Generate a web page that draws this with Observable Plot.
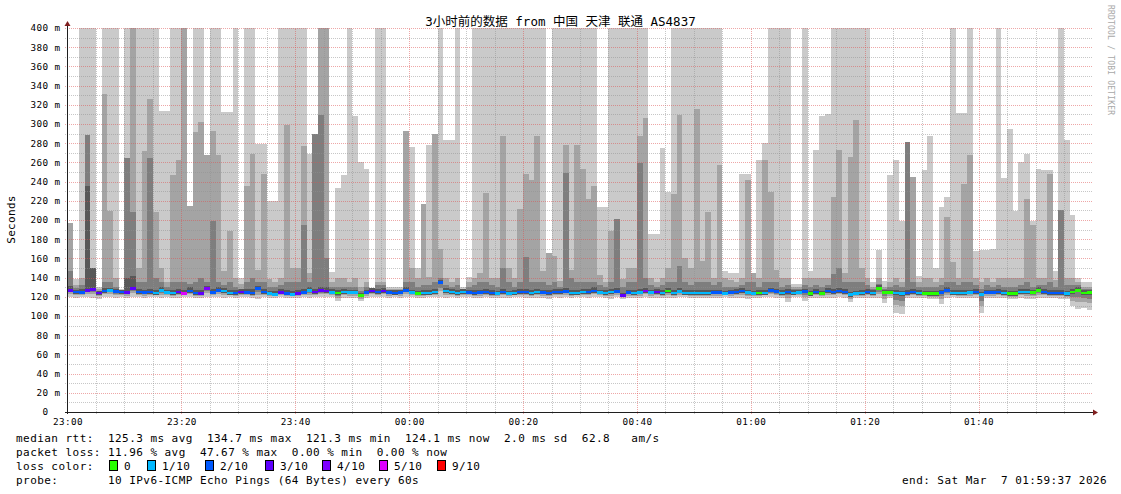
<!DOCTYPE html>
<html><head><meta charset="utf-8">
<script src="https://cdn.jsdelivr.net/npm/d3@7"></script>
<script src="https://cdn.jsdelivr.net/npm/@observablehq/plot@0.6"></script>
<style>
body{margin:0;background:#fff;}
#chart svg{display:block;}
#chart text{white-space:pre;}
</style></head><body><div id="chart"></div>
<script>
// ---------- data ----------
const chartTitle = "3小时前的数据 from 中国 天津 联通 AS4837";
const yTicks = [0,20,40,60,80,100,120,140,160,180,200,220,240,260,280,300,320,340,360,380,400];
const xTickLabels = ["23:00","23:20","23:40","00:00","00:20","00:40","01:00","01:20","01:40"];
const lossLegendLabels = ["0","1/10","2/10","3/10","4/10","5/10","9/10"];
const lossLegendColors = ["#26ff00","#00b8ff","#0059ff","#5e00ff","#7e00ff","#dd00ff","#ff0000"];
const lossLegendLevels = [0,1,2,3,4,5,9];
const medianRttStats = ["125.3","134.7","121.3","124.1","2.0","62.8"];
const packetLossStats = ["11.96","47.67","0.00","0.00"];
const probeText = "10 IPv6-ICMP Echo Pings (64 Bytes) every 60s";
const endText = "end: Sat Mar  7 01:59:37 2026";

// one column per minute from 23:00 (ms)
const lightTop = [197,139,400,400,400,130,400,400,400,128,400,400,400,400,400,400,314,314,400,400,
400,215,400,400,268,400,400,313,313,400,140,400,400,279,279,220,220,400,400,400,
400,400,269,290,400,400,146,233,247,400,308,260,253,128,400,400,130,130,130,293,
276,150,217,278,290,400,283,283,400,130,141,400,400,400,400,400,400,400,400,400,
400,400,400,400,166,400,400,400,400,400,400,400,400,214,214,400,400,400,400,400,
400,400,185,185,275,229,400,400,400,400,400,400,400,400,400,147,145,145,248,248,
145,262,280,400,400,400,400,133,133,400,147,273,308,310,400,400,400,400,400,400,
400,135,169,136,247,262,199,281,245,142,252,288,150,214,224,400,311,311,400,168,
169,169,170,400,244,295,209,260,269,199,253,252,252,147,400,283,205,140,135,135];
const midTop = [197,132,140,289,150,128,331,209,140,127,265,400,150,272,326,208,150,135,247,263,
400,215,292,302,268,293,268,147,189,140,133,235,269,148,248,139,135,140,299,150,
150,277,145,290,400,400,135,140,140,135,140,130,135,127,135,135,128,128,128,293,
150,140,217,141,290,170,140,135,140,128,135,140,145,228,140,140,288,150,140,211,
248,242,287,147,166,163,136,278,148,278,253,222,235,143,135,189,201,139,150,150,
287,306,140,135,140,150,227,309,160,150,316,157,208,140,257,140,137,135,140,242,
145,140,262,229,148,140,140,130,130,140,140,140,140,140,224,273,145,266,304,150,
140,130,140,130,135,140,135,281,245,135,140,140,135,140,203,156,140,237,268,140,
135,140,135,140,140,140,140,140,222,195,140,140,248,138,210,140,140,135,130,130];
const darkTop = [147,129,132,289,150,126,135,135,130,126,265,208,135,135,265,140,135,130,135,135,
135,133,135,140,135,199,135,132,135,130,128,135,140,135,135,130,130,132,135,135,
135,195,135,290,309,160,130,130,130,130,130,126,130,128,132,132,127,127,127,135,
135,130,132,132,135,140,132,130,132,127,130,132,135,135,132,130,150,135,130,135,
161,135,135,135,132,135,130,249,140,135,135,135,135,132,130,135,201,130,135,135,
259,140,132,130,132,135,135,152,135,132,135,135,135,132,135,130,130,130,132,135,
135,130,135,135,135,130,132,128,128,132,130,132,130,132,144,150,135,135,135,135,
132,128,133,128,130,132,130,281,135,130,130,130,130,132,135,135,132,135,135,132,
128,132,130,132,130,130,130,132,135,130,132,132,135,130,210,132,132,132,128,128];
const darkerTop = [131,127,128,235,150,126,129,129,128,127,140,142,128,127,128,127,130,127,127,128,
127,130,127,127,131,128,130,129,127,127,128,128,128,131,128,126,126,128,127,126,
127,128,130,128,130,130,128,127,128,127,127,124,127,129,128,129,127,127,127,130,
127,126,127,127,128,137,129,128,127,128,127,127,127,128,127,126,128,126,127,128,
128,127,128,127,127,128,128,129,127,127,128,128,130,127,127,128,129,124,127,127,
128,129,127,128,127,129,127,129,127,127,127,127,127,127,127,126,127,128,129,127,
126,127,127,129,128,127,128,127,127,128,126,128,126,129,128,129,128,125,126,127,
128,127,132,127,127,127,126,127,128,127,126,126,126,127,130,127,127,127,127,128,
125,127,127,128,127,126,126,128,128,127,130,128,127,127,127,126,128,130,127,127];
const lightBottom = [120,119,120,120,119,118,120,120,119,120,119,120,120,119,120,120,119,120,119,119,
120,120,119,119,120,120,120,119,120,119,120,120,119,118,120,119,119,120,119,119,
119,120,119,120,120,120,120,116,119,119,119,116,119,120,120,120,119,120,119,120,
120,119,119,120,120,120,119,120,119,120,120,119,119,120,119,119,119,119,120,120,
119,119,119,119,118,120,119,120,119,120,120,119,120,120,119,118,120,118,119,119,
119,120,119,119,119,119,119,120,120,119,119,119,119,119,119,120,119,119,119,118,
119,119,120,120,119,119,115,120,120,116,119,119,119,119,119,120,119,115,119,119,
119,119,119,114,119,103,102,119,119,119,119,118,118,113,119,120,119,119,119,119,
103,119,119,119,119,118,118,119,118,118,119,119,119,119,118,118,110,107,108,106];
const median = [127,125,124.5,127,128,124,126,127,125.5,125,124.5,129,125,124.5,125,124,126.5,124.5,124,125,
123.5,126,124,123.5,129,124.5,127,126,124,124,125,124.5,124,128.5,125,123.5,122.5,124.5,123.5,122.5,
123.5,124.5,126.5,125,126.5,126,124.5,124,125,124.5,124.5,121.5,124.5,126,125,126,124.5,124,124.5,127,
124.5,123.5,124,124,125,134.7,126,125,124,125,124.5,124,124.5,125,124,123.5,125,123.5,124,125,
125,124,125,124.5,124,125,125,125.5,124,124,125,125,126,124.5,124,125,125.5,121.3,124.5,124,
124.5,126,124.5,125,124,126,124,125.5,124,124,124,124,124,124.5,124.5,123.5,124.5,125,126,124.5,
123.5,124,124,126.5,125.5,124,125,124,124.5,125.5,123,125,123.5,126,125,126,125,122,123.5,124,
125,124,129,124.5,124.5,124,123,124,125,124,123.5,123,123,124.5,127,124,124,124,124.5,125,
122.5,124.5,124.5,125,124,123,123,125,125,124.5,127,125,124,124,124,123,125,127,124,124.1];
const loss = [3,2,2,3,3,3,2,1,2,2,3,3,2,2,2,1,1,1,1,3,
5,2,2,3,4,2,2,1,1,2,3,2,2,2,2,1,1,3,2,1,
3,2,1,3,3,3,1,0,1,1,1,0,2,3,2,3,2,2,2,2,
1,0,1,1,1,2,1,1,1,1,2,2,2,2,2,1,2,1,1,2,
2,1,1,2,2,2,2,2,1,1,1,2,2,1,1,1,2,3,2,1,
1,4,1,3,1,0,1,1,1,1,1,1,1,2,2,1,2,2,2,1,
1,0,1,2,2,1,2,1,1,2,0,2,0,2,2,2,2,1,1,1,
2,1,0,0,0,1,1,2,2,1,0,0,0,2,2,1,1,1,1,2,
1,2,2,2,1,0,0,1,1,0,0,2,2,2,2,1,0,0,0,0];

// ---------- build ----------
const lossColor = l => lossLegendColors[lossLegendLevels.indexOf(l)] || "#ff0000";
const cols = median.map((m, i) => {
  const lb = lightBottom[i];
  return {
    t0: i, t1: i + 1,
    lTop: lightTop[i], mTop: midTop[i], dTop: darkTop[i], ddTop: darkerTop[i],
    lBot: lb, mBot: lb + (m - lb) * 0.4, dBot: lb + (m - lb) * 0.65, ddBot: m - 1.8,
    med: m, loss: loss[i]
  };
});
const xStart = -0.088, xEnd = 179.92;
const xTickPos = xTickLabels.map((_, i) => i * 20);
const minorX = d3.range(5, 180, 5).filter(v => v % 20 !== 0);
const majorX = xTickPos.filter(v => v > 0);
const minorY = d3.range(10, 400, 20);
const majorY = yTicks.filter(v => v > 0);
const tickExt = 0.36;

const plot = Plot.plot({
  width: 1121, height: 494,
  marginLeft: 67, marginRight: 29, marginTop: 28, marginBottom: 82,
  x: {domain: [xStart, xEnd], axis: null},
  y: {domain: [0, 400], axis: null},
  style: {fontFamily: "'DejaVu Sans Mono', monospace", fontSize: "9.3px", background: "#fff", color: "#000", overflow: "visible"},
  marks: [
    Plot.rect(cols, {x1: "t0", x2: "t1", y1: "lBot", y2: "lTop", fill: "#cacaca", shapeRendering: "crispEdges", clip: true}),
    Plot.rect(cols, {x1: "t0", x2: "t1", y1: "mBot", y2: "mTop", fill: "#a4a4a4", shapeRendering: "crispEdges", clip: true}),
    Plot.rect(cols, {x1: "t0", x2: "t1", y1: "dBot", y2: "dTop", fill: "#7e7e7e", shapeRendering: "crispEdges", clip: true}),
    Plot.rect(cols, {x1: "t0", x2: "t1", y1: "ddBot", y2: "ddTop", fill: "#585858", shapeRendering: "crispEdges", clip: true}),
    Plot.ruleY(minorY, {y: d => d, x1: xStart - tickExt, x2: xEnd, stroke: "#8f8f8f", strokeOpacity: 0.5, strokeDasharray: "1,1", shapeRendering: "crispEdges"}),
    Plot.ruleY(majorY, {y: d => d, x1: xStart - tickExt, x2: xEnd, stroke: "#de4f4f", strokeOpacity: 0.5, strokeDasharray: "1,1", shapeRendering: "crispEdges"}),
    Plot.ruleX(minorX, {x: d => d, y1: -2, y2: 400, stroke: "#8f8f8f", strokeOpacity: 0.5, strokeDasharray: "1,1", shapeRendering: "crispEdges"}),
    Plot.ruleX(majorX, {x: d => d, y1: -2, y2: 400, stroke: "#de4f4f", strokeOpacity: 0.5, strokeDasharray: "1,1", shapeRendering: "crispEdges"}),
    Plot.rect(cols, {x1: "t0", x2: "t1", y1: d => d.med - 1.5, y2: d => d.med + 1.5, fill: d => lossColor(d.loss), shapeRendering: "crispEdges", clip: true}),
    Plot.text(yTicks, {x: xStart, y: d => d, text: d => d === 0 ? "0  " : `${d} m`, textAnchor: "end", dx: -7, fill: "#000", fontSize: 9.3}),
    Plot.text(xTickPos, {x: d => d, y: 0, dy: 10, text: (d, i) => xTickLabels[i], textAnchor: "middle", fill: "#000", fontSize: 9.3})
  ]
});
document.getElementById("chart").appendChild(plot);

const svg = d3.select(plot);
svg.selectAll("text").attr("letter-spacing", "0.4");
const X = plot.scale("x"), Y = plot.scale("y");
const ax0 = Math.round(X.apply(xStart)), ay0 = Math.round(Y.apply(0)), ayTop = Math.round(Y.apply(400));
const axRight = Math.round(X.apply(xEnd));
const over = svg.append("g").attr("text-anchor", "start");
// axes
over.append("line").attr("x1", ax0 + 0.5).attr("x2", ax0 + 0.5).attr("y1", ay0 + 2).attr("y2", ayTop - 5).attr("stroke", "#1f1f1f");
over.append("line").attr("x1", ax0 - 2).attr("x2", axRight + 3).attr("y1", ay0 + 0.5).attr("y2", ay0 + 0.5).attr("stroke", "#1f1f1f");
over.append("path").attr("d", `M${ax0 - 2.5},${ayTop - 2} L${ax0 + 3.5},${ayTop - 2} L${ax0 + 0.5},${ayTop - 7} Z`).attr("fill", "#801f1f");
over.append("path").attr("d", `M${axRight + 1},${ay0 - 2.5} L${axRight + 1},${ay0 + 3.5} L${axRight + 6},${ay0 + 0.5} Z`).attr("fill", "#801f1f");

const mono = "'DejaVu Sans Mono', monospace";
// title
over.append("text").attr("x", 560.5).attr("y", 26).attr("text-anchor", "middle")
  .attr("font-family", "'DejaVu Sans Mono','Noto Sans CJK SC',sans-serif").attr("font-size", 12.5).attr("fill", "#000").text(chartTitle);
// y label
over.append("text").attr("transform", "translate(15,219.5) rotate(-90)").attr("text-anchor", "middle")
  .attr("font-family", mono).attr("font-size", 11).attr("letter-spacing", "0.3").attr("fill", "#000").text("Seconds");
// watermark
over.append("text").attr("transform", "translate(1108,5) rotate(90)").attr("text-anchor", "start")
  .attr("font-family", mono).attr("font-size", 8).attr("letter-spacing", "0.2").attr("fill", "#a8a8a8").text("RRDTOOL / TOBI OETIKER");

// legend
const legendLine = (txt, y, x = 16) => over.append("text").attr("x", x).attr("y", y).attr("text-anchor", "start")
  .attr("font-family", mono).attr("font-size", 11).attr("letter-spacing", "0.45").attr("fill", "#000")
  .attr("xml:space", "preserve").text(txt);
legendLine(`median rtt:  ${medianRttStats[0]} ms avg  ${medianRttStats[1]} ms max  ${medianRttStats[2]} ms min  ${medianRttStats[3]} ms now  ${medianRttStats[4]} ms sd  ${medianRttStats[5]}   am/s`, 442);
legendLine(`packet loss: ${packetLossStats[0]} % avg  ${packetLossStats[1]} % max  ${packetLossStats[2]} % min  ${packetLossStats[3]} % now`, 456);
legendLine("loss color:", 470);
legendLine(`probe:       ${probeText}`, 484);
legendLine(endText, 484, 902);
const swatchX = [109, 147, 205, 265, 322, 379, 437];
lossLegendLabels.forEach((lab, i) => {
  over.append("rect").attr("x", swatchX[i] + 0.5).attr("y", 460.5).attr("width", 8).attr("height", 10)
    .attr("fill", lossLegendColors[i]).attr("stroke", "#000").attr("stroke-width", 1);
  legendLine(lab, 470, swatchX[i] + 15);
});
</script></body></html>
